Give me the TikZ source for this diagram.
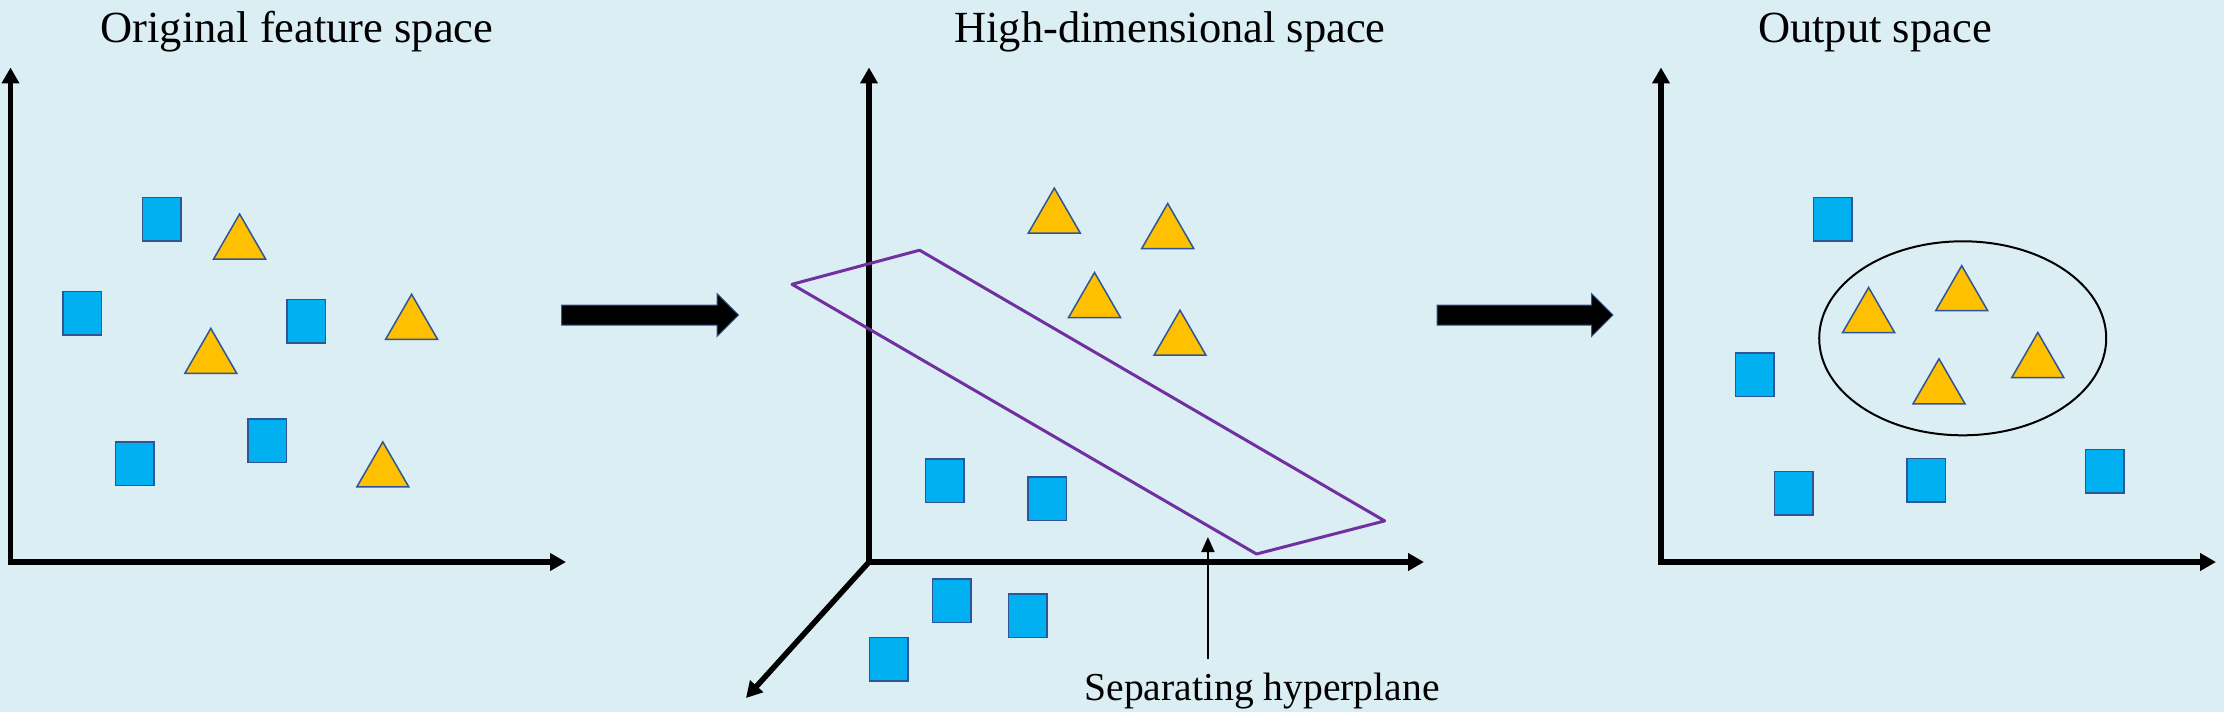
\documentclass[tikz,border=0pt]{standalone}
\usepackage{fontspec}
\setmainfont{Liberation Serif}
\usetikzlibrary{arrows.meta,shapes.geometric}
\definecolor{bgc}{HTML}{DBEEF4}
\definecolor{sqfill}{HTML}{00B0F0}
\definecolor{edgeblue}{HTML}{2F5597}
\definecolor{trifill}{HTML}{FFC000}
\definecolor{planec}{HTML}{7030A0}
\tikzset{
  sq/.style={rectangle,draw=edgeblue,fill=sqfill,line width=1.5bp,minimum width=38.5bp,minimum height=43.5bp,inner sep=0pt,outer sep=0pt},
  tri/.style={regular polygon,regular polygon sides=3,draw=edgeblue,fill=trifill,line width=1.5bp,minimum size=60bp,inner sep=0pt,outer sep=0pt},
  axis/.style={line width=5.5bp,{Triangle[length=16bp,width=17bp]}-{Triangle[length=16bp,width=17bp]}},
  axisone/.style={line width=5.5bp,-{Triangle[length=16bp,width=17bp]}},
  title/.style={font=\fontsize{44.5bp}{50bp}\selectfont,anchor=base,inner sep=0pt},
  bigarrow/.style={fill=black,draw=edgeblue,line width=1bp,line join=miter},
  thinarrow/.style={line width=2bp,-{Triangle[length=15bp,width=13bp]}},
  planeline/.style={draw=planec,line width=3bp,line join=round}
}
\begin{document}
\begin{tikzpicture}[x=1bp,y=-1bp]
\fill[bgc] (0,0) rectangle (2224,712);
\useasboundingbox (0,0) rectangle (2224,712);

% ---------- Panel 1 ----------
\node[title] (t1) at (297,43) {Original feature space};
\coordinate (o1) at (10.5,562);
\coordinate (y1) at (10.5,67.5);
\coordinate (x1) at (566,562);
\draw[axis] (y1) -- (o1) -- (x1);

\node[sq] (p1s1) at (161.9,219.1) {};
\node[sq] (p1s2) at (82.0,313.4) {};
\node[sq] (p1s3) at (306.0,321.1) {};
\node[sq] (p1s4) at (134.5,463.5) {};
\node[sq] (p1s5) at (267.1,440.8) {};
\node[tri] (p1t1) at (239.6,244.0) {};
\node[tri] (p1t2) at (411.6,324.3) {};
\node[tri] (p1t3) at (210.8,358.4) {};
\node[tri] (p1t4) at (382.8,471.9) {};

% big arrow 1
\draw[bigarrow] (561.5,305) -- (717,305) -- (717,293.5) -- (738.5,315) -- (717,336.5) -- (717,325) -- (561.5,325) -- cycle;

% ---------- Panel 2 ----------
\node[title] (t2) at (1170,43) {High-dimensional space};
\coordinate (o2) at (869,562);
\coordinate (y2) at (869,67.5);
\coordinate (x2) at (1424,562);
\coordinate (z2) at (746,698);
\draw[axis] (y2) -- (o2) -- (x2);
\draw[axisone] (o2) -- (z2);

\node[tri] (p2t1) at (1054.3,218.1) {};
\node[tri] (p2t2) at (1167.7,233.5) {};
\node[tri] (p2t3) at (1094.5,302.5) {};
\node[tri] (p2t4) at (1180.0,340.2) {};
\node[sq] (p2s1) at (944.5,480.7) {};
\node[sq] (p2s2) at (1047.0,498.6) {};
\node[sq] (p2s3) at (951.5,600.8) {};
\node[sq] (p2s4) at (1027.6,615.9) {};
\node[sq] (p2s5) at (888.5,659.0) {};

% separating plane
\coordinate (pa) at (792.0,284.3);
\coordinate (pb) at (919.6,250.2);
\coordinate (pc) at (1384.7,520.9);
\coordinate (pd) at (1256.5,554.0);
\draw[planeline] (pa) -- (pb) -- (pc) -- (pd) -- cycle;

% label and pointer
\node[font=\fontsize{39.6bp}{45bp}\selectfont,anchor=base,inner sep=0pt] (lab) at (1262,700) {Separating hyperplane};
\coordinate (lp0) at (1207.9,658.5);
\coordinate (lp1) at (1207.9,537);
\draw[thinarrow] (lp0) -- (lp1);

% big arrow 2
\draw[bigarrow] (1437,305) -- (1591.5,305) -- (1591.5,293.5) -- (1613,315) -- (1591.5,336.5) -- (1591.5,325) -- (1437,325) -- cycle;

% ---------- Panel 3 ----------
\node[title] (t3) at (1875,43) {Output space};
\coordinate (o3) at (1661,562);
\coordinate (y3) at (1661,67.5);
\coordinate (x3) at (2216,562);
\draw[axis] (y3) -- (o3) -- (x3);

\node[ellipse,draw=black,line width=2bp,minimum width=287bp,minimum height=194bp,inner sep=0pt] (ell) at (1962.7,338.3) {};
\node[tri] (p3t1) at (1868.6,317.5) {};
\node[tri] (p3t2) at (1961.7,295.7) {};
\node[tri] (p3t3) at (2037.8,362.5) {};
\node[tri] (p3t4) at (1939.0,388.8) {};
\node[sq] (p3s1) at (1832.9,219.4) {};
\node[sq] (p3s2) at (1754.5,374.9) {};
\node[sq] (p3s3) at (1793.7,493.4) {};
\node[sq] (p3s4) at (1926.0,480.3) {};
\node[sq] (p3s5) at (2104.7,471.0) {};
\end{tikzpicture}
\end{document}
